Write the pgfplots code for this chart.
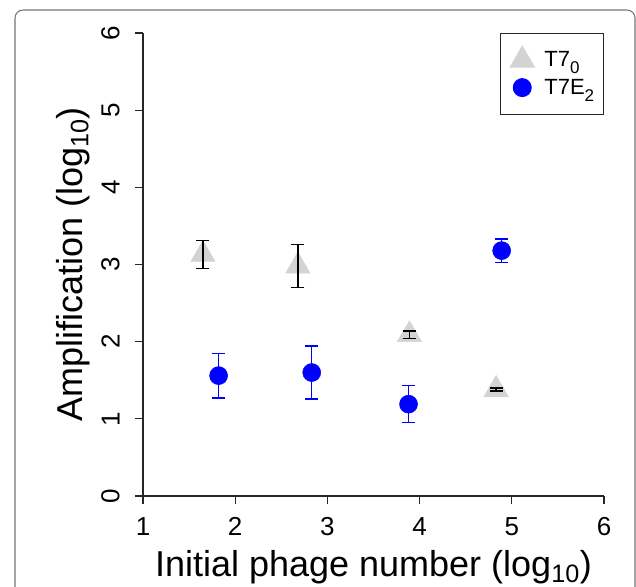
\documentclass[border=0pt]{standalone}
\usepackage{fontspec}
\setmainfont{Liberation Sans}
\usepackage{graphicx}
\usepackage{pgfplots}
\pgfplotsset{compat=1.18}
\definecolor{trigray}{HTML}{D3D3D3}
\definecolor{framegray}{HTML}{777777}
% subscript as the legend shows it: large and low
\newcommand\lsub[1]{\raisebox{-0.32em}{\fontsize{12.75}{13}\selectfont #1}}
\begin{document}
\begin{tikzpicture}
% outer frame, its bottom edge lies below the picture
\draw[framegray, line width=0.8pt, rounded corners=6pt]
  (11.25pt,-22.5pt) -- (11.25pt,432pt) -- (476.25pt,432pt) -- (476.25pt,-22.5pt);
\begin{axis}[
  at={(107.25pt,67.5pt)}, anchor=south west,
  scale only axis, width=345.75pt, height=347.25pt,
  xmin=1, xmax=6, ymin=0, ymax=6,
  xtick={1,...,6}, ytick={0,...,6},
  axis x line*=bottom, axis y line*=left,
  axis line style={black!85, line width=0.8pt},
  tick align=outside, major tick length=6pt,
  tick style={black!85, line width=0.8pt},
  ticklabel style={font=\fontsize{19.5}{22}\selectfont},
  /pgf/number format/assume math mode=true,
  xticklabel style={yshift=-6.5pt},
  yticklabel style={xshift=-8pt, rotate=90, anchor=south},
  xlabel={Initial phage number (log\textsubscript{10})},
  ylabel={Amplification (log\textsubscript{10})},
  label style={font=\fontsize{27}{32}\selectfont},
  xlabel style={at={(axis description cs:0.5,-0.173)}, anchor=base},
  ylabel style={at={(axis description cs:-0.132,0.5)}, anchor=base},
  legend style={at={(1,1)}, anchor=north east, draw=black!85, line width=0.7pt,
    font=\fontsize{16.5}{19}\selectfont, row sep=0pt,
    inner xsep=7pt, inner ysep=9.5pt,
    nodes={inner xsep=0pt, inner ysep=0pt},
    /tikz/every odd column/.append style={column sep=7.5pt}},
  legend image code/.code={
    \path[draw=none, fill=none] (-7.6pt,-10.3pt) rectangle (7.6pt,10.3pt);
    \draw[#1] plot coordinates {(0pt,0pt)};},
  legend cell align=left,
  clip=false, clip mode=individual,
]
\addplot[only marks, mark=triangle*, mark size=10.5pt, color=trigray] coordinates {
  (1.65,3.13) (2.68,2.98) (3.89,2.09) (4.83,1.38)};
\addlegendentry{T7\lsub{0}}
\addplot[only marks, mark=*, mark size=6.75pt, color=blue] coordinates {
  (1.82,1.56) (2.83,1.60) (3.88,1.19) (4.89,3.18)};
\addlegendentry{T7E\lsub{2}}
% error bars
\addplot[forget plot, only marks, mark=*, mark options={opacity=0}, black,
  error bars/.cd, y dir=both, y explicit,
  error bar style={line width=1pt},
  error mark options={rotate=90, line width=1pt, mark size=4.9pt}] coordinates {
  (1.65,3.13) +- (0,0.18)
  (2.68,2.98) +- (0,0.275)
  (3.89,2.09) +- (0,0.05)
  (4.83,1.38) +- (0,0.02)};
\addplot[forget plot, only marks, mark=*, mark options={opacity=0}, blue,
  error bars/.cd, y dir=both, y explicit,
  error bar style={line width=1pt},
  error mark options={rotate=90, line width=1pt, mark size=4.9pt}] coordinates {
  (1.82,1.56) +- (0,0.29)
  (2.83,1.60) +- (0,0.345)
  (3.88,1.19) +- (0,0.24)
  (4.89,3.18) +- (0,0.15)};
\end{axis}
\pgfresetboundingbox
\useasboundingbox (0,0) rectangle (477pt,439.5pt);
\end{tikzpicture}
\end{document}
